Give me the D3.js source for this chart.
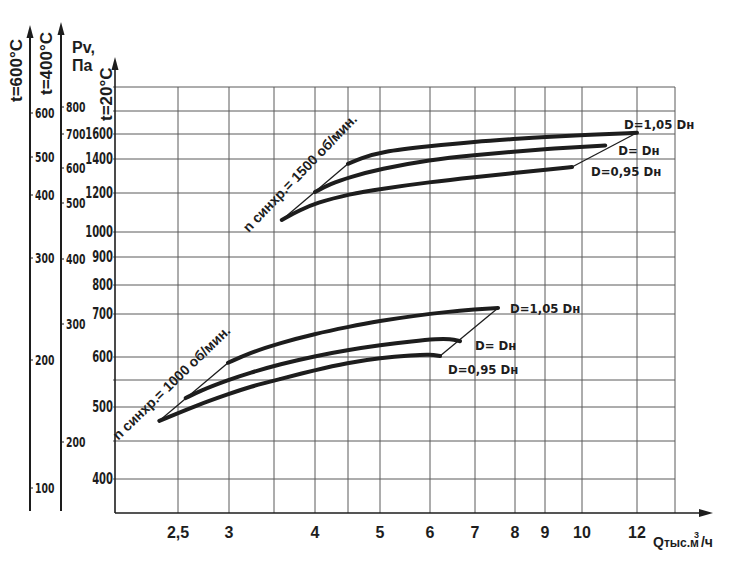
<!DOCTYPE html>
<html>
<head>
<meta charset="utf-8">
<script src="https://cdn.jsdelivr.net/npm/d3@7"></script>
<style>
body { margin: 0; background: #fff; }
text { font-family: 'Liberation Sans', Arial, sans-serif; font-weight: bold; fill: #1d1d1d; }
.narrow { font-family: 'Liberation Sans Narrow', 'Arial Narrow', 'DejaVu Sans Condensed', sans-serif; }
</style>
</head>
<body>
<svg id="chart" width="740" height="568"></svg>
<script>
// Q, thousand m3/h
const qTicks = [2.5, 3, 4, 5, 6, 7, 8, 9, 10, 12]
const qGrid = [2.5, 3, 3.5, 4, 4.5, 5, 6, 7, 8, 9, 10, 12, 14]
// Pv, Pa at t=20°C
const pTicks = [400, 500, 600, 700, 800, 900, 1000, 1200, 1400, 1600]
const pGrid = [400, 450, 500, 550, 600, 700, 800, 900, 1000, 1200, 1400, 1600, 1800, 2000]
// side scales for hot gas
const t600Ticks = [100, 200, 300, 400, 500, 600]
const t400Ticks = [200, 300, 400, 500, 600, 700, 800]

const dNames = ['D=1,05 Dн', 'D= Dн', 'D=0,95 Dн']

// n sync = 1500 rpm
const q1500_105 = [4.5, 4.7, 5, 6, 7, 8, 9, 10, 12]
const p1500_105 = [1370, 1405, 1455, 1500, 1535, 1558, 1575, 1592, 1610]
const q1500_100 = [4, 4.22, 4.53, 5, 6, 7, 8, 9.05, 10, 10.8]
const p1500_100 = [1205, 1250, 1290, 1338, 1395, 1430, 1457, 1477, 1493, 1505]
const q1500_095 = [3.59, 3.81, 4.01, 4.53, 5, 6, 7, 8, 9.05, 9.72]
const p1500_095 = [1058, 1108, 1145, 1195, 1222, 1261, 1290, 1314, 1335, 1350]

// n sync = 1000 rpm
const q1000_105 = [2.99, 3.22, 3.57, 4, 4.49, 5, 5.64, 6.36, 7, 7.56]
const p1000_105 = [587, 609, 631, 652, 668, 683, 695, 707, 715, 720]
const q1000_100 = [2.57, 2.7, 2.99, 3.22, 3.57, 4, 4.49, 5, 5.64, 6.15, 6.43, 6.65]
const p1000_100 = [516, 529, 550, 565, 584, 602, 615, 626, 635, 640, 640, 635]
const q1000_095 = [2.34, 2.7, 2.99, 3.22, 3.57, 4, 4.49, 5, 5.64, 6, 6.21]
const p1000_095 = [479, 505, 523, 537, 552, 571, 587, 598, 604, 606, 602]

const svg = d3.select('#chart')

// the nomogram scales are hand drawn, so they are calibrated piecewise
const x = d3.scaleLog()
    .domain([2, 2.5, 3, 3.5, 4, 4.5, 5, 6, 7, 8, 9, 10, 12, 14])
    .range([115, 178, 229, 274, 315, 348, 380, 430, 475, 515, 545, 582, 637, 675])
const y = d3.scaleLog()
    .domain([360, 400, 450, 500, 550, 600, 700, 800, 900, 1000, 1200, 1400, 1600, 1800, 2000])
    .range([513, 479, 441, 407, 380, 357, 314, 285, 257, 232, 193, 159, 134, 111, 87])
const y600 = d3.scaleLinear()
    .domain([100, 200, 300, 400, 500, 600])
    .range([488, 360, 258, 195, 157, 113])
const y400 = d3.scaleLinear()
    .domain([200, 300, 400, 500, 600, 700, 800])
    .range([442, 324, 259, 203, 168, 134, 107])

const x0 = x(2), x1 = x(14)
const yBottom = y(360), yTop = y(2000)
const xArrow = 713
const yArrow = 57

// grid
const grid = svg.append('g').attr('stroke', '#5a5a5a').attr('stroke-width', 1)
grid.selectAll('line.v').data(qGrid).enter().append('line')
    .attr('x1', d => x(d)).attr('x2', d => x(d))
    .attr('y1', yTop).attr('y2', yBottom)
grid.selectAll('line.h').data(pGrid).enter().append('line')
    .attr('x1', x0 - 2).attr('x2', x1)
    .attr('y1', d => y(d)).attr('y2', d => y(d))

const arrowUp = (g, cx, tip) => g.append('path')
    .attr('d', `M${cx},${tip} L${cx - 3.5},${tip + 13} L${cx + 3.5},${tip + 13} Z`)
    .attr('fill', '#1d1d1d')

// main axes
svg.append('line').attr('x1', x0).attr('x2', x0).attr('y1', yBottom).attr('y2', yArrow + 4)
    .attr('stroke', '#1d1d1d').attr('stroke-width', 1.6)
arrowUp(svg, x0, yArrow)
svg.append('line').attr('x1', x0).attr('x2', xArrow - 4).attr('y1', yBottom).attr('y2', yBottom)
    .attr('stroke', '#1d1d1d').attr('stroke-width', 1.6)
svg.append('path')
    .attr('d', `M${xArrow},${yBottom} L${xArrow - 14},${yBottom - 4} L${xArrow - 14},${yBottom + 4} Z`)
    .attr('fill', '#1d1d1d')

svg.append('g').selectAll('text').data(pTicks).enter().append('text')
    .attr('class', 'narrow')
    .attr('x', x0 - 2).attr('y', d => y(d)).attr('dy', '0.36em')
    .attr('text-anchor', 'end').attr('font-size', 15)
    .attr('transform', `translate(${x0 - 2},0) scale(0.74,1) translate(${-(x0 - 2)},0)`)
    .text(d => d)

svg.append('g').selectAll('text').data(qTicks).enter().append('text')
    .attr('x', d => x(d)).attr('y', 538)
    .attr('text-anchor', 'middle').attr('font-size', 16)
    .text(d => String(d).replace('.', ','))

// side axes
const sideAxis = (xPos, scale, ticks, tip) => {
    const g = svg.append('g')
    g.append('line').attr('x1', xPos).attr('x2', xPos).attr('y1', 511).attr('y2', tip + 4)
        .attr('stroke', '#1d1d1d').attr('stroke-width', 2)
    arrowUp(g, xPos, tip)
    g.selectAll('line.t').data(ticks).enter().append('line')
        .attr('x1', xPos).attr('x2', xPos + 3)
        .attr('y1', d => scale(d)).attr('y2', d => scale(d))
        .attr('stroke', '#1d1d1d').attr('stroke-width', 1)
    g.selectAll('text').data(ticks).enter().append('text')
        .attr('class', 'narrow')
        .attr('x', xPos + 5).attr('y', d => scale(d)).attr('dy', '0.36em')
        .attr('font-size', 14)
        .attr('transform', `translate(${xPos + 5},0) scale(0.74,1) translate(${-(xPos + 5)},0)`)
        .text(d => d)
}
sideAxis(30, y600, t600Ticks, 25)
sideAxis(61, y400, t400Ticks, 22)

// axis titles
const vTitle = (bx, by, label) => svg.append('text')
    .attr('transform', `translate(${bx},${by}) rotate(-90)`)
    .attr('font-size', 17).text(label)
vTitle(22, 102, 't=600°C')
vTitle(52, 95, 't=400°C')
vTitle(112, 121, 't=20°C')
svg.append('text').attr('x', 72).attr('y', 53).attr('font-size', 16).text('Pv,')
svg.append('text').attr('x', 72).attr('y', 71).attr('font-size', 16).text('Па')

const qLabel = svg.append('text').attr('x', 653).attr('y', 547).attr('font-size', 14)
qLabel.append('tspan').text('Q')
qLabel.append('tspan').attr('font-size', 12).text('тыс.м')
qLabel.append('tspan').attr('font-size', 9).attr('dy', -9).attr('dx', -5).text('3')
qLabel.append('tspan').attr('font-size', 14).attr('dy', 9).attr('dx', 2).text('/ч')

// curves
const line = d3.line().x(d => x(d[0])).y(d => y(d[1])).curve(d3.curveBasis)
const families = [
    {n: 1500, qs: [q1500_105, q1500_100, q1500_095], ps: [p1500_105, p1500_100, p1500_095],
        nOff: [-33, 13], angle: -46,
        dOff: [[-13, -4], [13, 10], [19, 9]]},
    {n: 1000, qs: [q1000_105, q1000_100, q1000_095], ps: [p1000_105, p1000_100, p1000_095],
        nOff: [-41, 20], angle: -44,
        dOff: [[12, 5], [15, 9], [8, 18]]}
]

families.forEach(f => {
    const series = f.qs.map((qs, i) => qs.map((q, j) => [q, f.ps[i][j]]))
    series.forEach(s => {
        svg.append('path').datum(s)
            .attr('d', line)
            .attr('fill', 'none').attr('stroke', '#1d1d1d')
            .attr('stroke-width', 4).attr('stroke-linecap', 'round')
    })
    const hi = series[0], lo = series[2]
    const ends = [[lo[0], hi[0]], [lo[lo.length - 1], hi[hi.length - 1]]]
    ends.forEach(([a, b]) => {
        svg.append('line')
            .attr('x1', x(a[0])).attr('y1', y(a[1]))
            .attr('x2', x(b[0])).attr('y2', y(b[1]))
            .attr('stroke', '#1d1d1d').attr('stroke-width', 1.3)
    })
    const lx = x(lo[0][0]) + f.nOff[0], ly = y(lo[0][1]) + f.nOff[1]
    svg.append('text')
        .attr('transform', `translate(${lx},${ly}) rotate(${f.angle})`)
        .attr('font-size', 14)
        .text(`n синхр.= ${f.n} об/мин.`)
    series.forEach((s, i) => {
        const last = s[s.length - 1]
        svg.append('text')
            .attr('class', 'narrow')
            .attr('x', x(last[0]) + f.dOff[i][0]).attr('y', y(last[1]) + f.dOff[i][1])
            .attr('font-size', 13)
            .text(dNames[i])
    })
})
</script>
</body>
</html>
